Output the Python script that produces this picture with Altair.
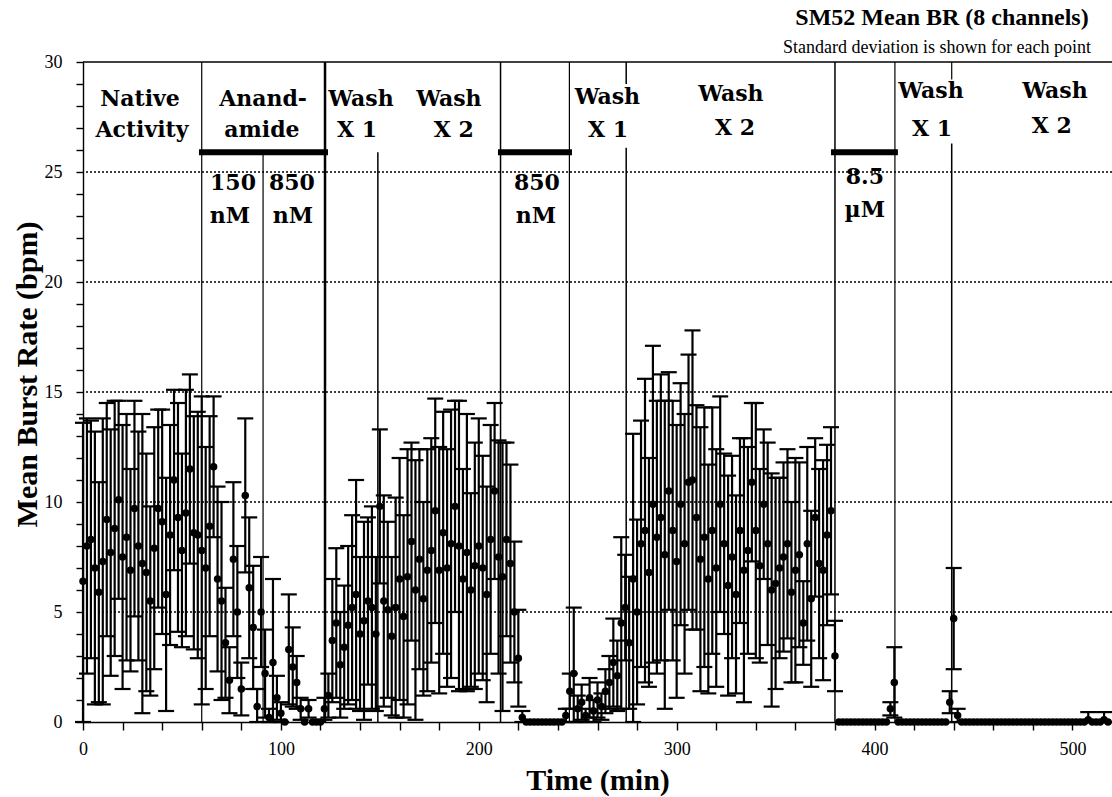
import altair as alt
import pandas as pd

# ---- data (time in min, mean burst rate and SD in bpm) ----
times = [
    0, 2, 4, 6, 8, 10, 12, 14, 16, 18,
    20, 22, 24, 26, 28, 30, 32, 34, 36, 38,
    40, 42, 44, 46, 48, 50, 52, 54, 56, 58,
    60, 62, 64, 66, 68, 70, 72, 74, 76, 78,
    80, 82, 84, 86, 88, 90, 92, 94, 96, 98,
    100, 102, 104, 106, 108, 110, 112, 114, 116, 118,
    120, 122, 124, 126, 128, 130, 132, 134, 136, 138,
    140, 142, 144, 146, 148, 150, 152, 154, 156, 158,
    160, 162, 164, 166, 168, 170, 172, 174, 176, 178,
    180, 182, 184, 186, 188, 190, 192, 194, 196, 198,
    200, 202, 204, 206, 208, 210, 212, 214, 216, 218,
    220, 222, 224, 226, 228, 230, 232, 234, 236, 238,
    240, 242, 244, 246, 248, 250, 252, 254, 256, 258,
    260, 262, 264, 266, 268, 270, 272, 274, 276, 278,
    280, 282, 284, 286, 288, 290, 292, 294, 296, 298,
    300, 302, 304, 306, 308, 310, 312, 314, 316, 318,
    320, 322, 324, 326, 328, 330, 332, 334, 336, 338,
    340, 342, 344, 346, 348, 350, 352, 354, 356, 358,
    360, 362, 364, 366, 368, 370, 372, 374, 376, 378,
    380, 382, 384, 386, 388, 390, 392, 394, 396, 398,
    400, 402, 404, 406, 408, 410, 412, 414, 416, 418,
    420, 422, 424, 426, 428, 430, 432, 434, 436, 438,
    440, 442, 444, 446, 448, 450, 452, 454, 456, 458,
    460, 462, 464, 466, 468, 470, 472, 474, 476, 478,
    480, 482, 484, 486, 488, 490, 492, 494, 496, 498,
    500, 502, 504, 506, 508, 510, 512, 514, 516, 518,
]

mean_br = [
    6.4, 8.0, 8.3, 7.0, 5.9, 7.3, 9.2, 7.7, 8.8, 10.1,
    7.5, 8.4, 6.9, 9.7, 8.0, 7.2, 6.8, 5.5, 7.9, 9.7,
    9.1, 5.8, 8.5, 11.0, 9.3, 7.8, 9.5, 11.5, 8.6, 8.5,
    7.8, 7.0, 8.9, 11.6, 6.5, 5.5, 3.6, 1.9, 7.4, 5.0,
    1.5, 10.3, 6.1, 4.3, 0.7, 5.0, 2.2, 0.2, 2.7, 1.1,
    0.4, 0.0, 3.3, 2.5, 1.8, 0.6, 0.0, 0.6, 0.0, 0.0,
    0.0, 0.6, 1.2, 3.7, 4.5, 2.6, 3.4, 4.4, 5.2, 5.8,
    4.0, 4.6, 5.5, 5.2, 4.0, 9.8, 5.5, 5.1, 3.9, 5.2,
    6.5, 4.8, 6.6, 8.2, 6.0, 7.4, 5.6, 6.9, 7.8, 9.6,
    6.9, 8.6, 7.0, 8.1, 9.8, 8.0, 6.5, 7.7, 6.0, 7.1,
    8.0, 7.0, 5.8, 8.3, 10.5, 7.5, 6.6, 8.3, 7.2, 5.0,
    2.9, 0.2, 0.0, 0.0, 0.0, 0.0, 0.0, 0.0, 0.0, 0.0,
    0.0, 0.0, 0.3, 1.4, 2.2, 0.6, 0.9, 0.3, 1.1, 0.5,
    1.0, 0.7, 1.4, 1.8, 2.7, 2.1, 4.5, 5.2, 3.6, 6.5,
    5.0, 8.1, 8.7, 6.8, 9.9, 8.4, 9.3, 7.6, 10.5, 8.7,
    7.3, 9.9, 8.1, 10.9, 11.0, 9.3, 7.4, 8.4, 6.5, 8.7,
    7.0, 9.9, 8.1, 6.2, 7.5, 5.8, 8.7, 6.9, 7.8, 10.9,
    8.7, 7.1, 9.9, 8.1, 6.0, 6.3, 7.0, 7.5, 8.1, 5.9,
    6.9, 7.6, 4.5, 8.1, 5.6, 9.3, 7.2, 6.9, 8.5, 9.6,
    3.0, 0.0, 0.0, 0.0, 0.0, 0.0, 0.0, 0.0, 0.0, 0.0,
    0.0, 0.0, 0.0, 0.0, 0.6, 1.8, 0.0, 0.0, 0.0, 0.0,
    0.0, 0.0, 0.0, 0.0, 0.0, 0.0, 0.0, 0.0, 0.0, 0.9,
    4.7, 0.3, 0.0, 0.0, 0.0, 0.0, 0.0, 0.0, 0.0, 0.0,
    0.0, 0.0, 0.0, 0.0, 0.0, 0.0, 0.0, 0.0, 0.0, 0.0,
    0.0, 0.0, 0.0, 0.0, 0.0, 0.0, 0.0, 0.0, 0.0, 0.0,
    0.0, 0.0, 0.0, 0.0, 0.1, 0.0, 0.0, 0.0, 0.1, 0.0,
]

sd_br = [
    7.2, 5.8, 5.4, 6.2, 5.0, 6.5, 5.3, 5.6, 5.8, 4.5,
    6.0, 5.6, 4.6, 4.9, 5.2, 6.8, 5.4, 4.3, 5.5, 4.5,
    5.1, 5.3, 5.0, 4.1, 5.2, 4.4, 5.6, 4.3, 5.3, 5.6,
    7.0, 5.5, 5.0, 3.2, 4.2, 4.5, 2.5, 1.5, 3.5, 3.0,
    1.2, 3.5, 3.2, 2.8, 0.8, 2.5, 2.0, 0.4, 3.8, 1.0,
    0.5, 0.0, 2.5, 1.8, 1.2, 0.5, 0.0, 0.4, 0.0, 0.0,
    0.0, 0.5, 1.0, 2.8, 3.4, 2.4, 2.8, 3.6, 4.2, 5.2,
    3.5, 4.5, 3.8, 4.6, 3.5, 3.5, 4.8, 4.0, 3.6, 5.0,
    5.5, 4.6, 5.8, 4.5, 5.9, 5.0, 4.4, 5.5, 5.1, 5.1,
    5.6, 5.5, 5.4, 6.1, 4.8, 6.6, 5.0, 6.3, 4.4, 5.6,
    5.8, 5.1, 4.9, 5.2, 4.0, 5.3, 6.1, 4.4, 4.5, 3.2,
    2.2, 0.3, 0.0, 0.0, 0.0, 0.0, 0.0, 0.0, 0.0, 0.0,
    0.0, 0.0, 0.3, 0.8, 3.0, 0.6, 0.8, 0.3, 0.9, 0.5,
    0.8, 0.6, 1.0, 1.2, 2.0, 1.6, 3.9, 2.4, 3.0, 6.6,
    4.2, 5.6, 6.9, 5.2, 7.2, 6.2, 6.5, 7.0, 5.4, 5.9,
    6.2, 5.5, 5.9, 5.8, 6.8, 5.1, 6.0, 5.9, 5.2, 5.6,
    5.4, 4.9, 4.1, 5.0, 4.6, 4.5, 4.2, 6.0, 4.7, 3.6,
    5.8, 4.4, 3.4, 4.6, 5.3, 4.8, 4.1, 4.3, 4.3, 4.1,
    5.1, 4.2, 1.9, 4.4, 4.0, 3.6, 4.3, 5.0, 4.1, 3.8,
    1.6, 0.0, 0.0, 0.0, 0.0, 0.0, 0.0, 0.0, 0.0, 0.0,
    0.0, 0.0, 0.0, 0.0, 0.3, 1.6, 0.0, 0.0, 0.0, 0.0,
    0.0, 0.0, 0.0, 0.0, 0.0, 0.0, 0.0, 0.0, 0.0, 0.5,
    2.3, 0.3, 0.0, 0.0, 0.0, 0.0, 0.0, 0.0, 0.0, 0.0,
    0.0, 0.0, 0.0, 0.0, 0.0, 0.0, 0.0, 0.0, 0.0, 0.0,
    0.0, 0.0, 0.0, 0.0, 0.0, 0.0, 0.0, 0.0, 0.0, 0.0,
    0.0, 0.0, 0.0, 0.0, 0.35, 0.0, 0.0, 0.0, 0.35, 0.0,
]

# ---- protocol annotations (data coordinates) ----
vline_t = [60, 91, 122.3, 149, 211, 245.8, 274.5, 274.5, 380, 410.3, 439, 439]
vline_lo = [0, 0, 0, 0, 0, 0, 29.0, 0, 0, 0, 29.2, 0]
vline_hi = [30, 25.9, 30, 25.9, 30, 30, 30, 26.1, 30, 30, 30, 26.3]
vline_w = [1.2, 1.2, 2.5, 1.5, 1.5, 1.2, 1.5, 1.5, 1.5, 1.2, 1.2, 1.5]

drug_start = [58.6, 209.7, 378.0]
drug_end = [123.8, 247.1, 411.8]
drug_level = [25.9, 25.9, 25.9]

label_text = ["Native", "Activity", "Anand-", "amide", "Wash", "X 1", "Wash", "X 2",
              "150", "nM", "850", "nM", "850", "nM", "Wash", "X 1", "Wash", "X 2",
              "8.5", "µM", "Wash", "X 1", "Wash", "X 2"]
label_t = [28.8, 29.8, 91.0, 90.4, 140.5, 138.5, 184.9, 187.4,
           75.8, 74.3, 105.6, 106.1, 229.4, 228.9, 265.0, 265.3, 327.4, 329.5,
           395.1, 395.1, 428.5, 429.0, 491.2, 489.6]
label_v = [28.3, 26.9, 28.3, 26.9, 28.3, 26.9, 28.3, 26.9,
           24.5, 23.0, 24.5, 23.0, 24.5, 23.0, 28.4, 26.9, 28.55, 27.0,
           24.77, 23.27, 28.68, 26.95, 28.68, 27.09]

grid_levels = [5, 10, 15, 20, 25]
top_level = [30]
x_ticks = [0, 20, 40, 60, 80, 100, 120, 140, 160, 180, 200, 220, 240, 260, 280,
           300, 320, 340, 360, 380, 400, 420, 440, 460, 480, 500]
y_ticks = [0, 1, 2, 3, 4, 5, 6, 7, 8, 9, 10, 11, 12, 13, 14, 15, 16, 17, 18, 19, 20,
           21, 22, 23, 24, 25, 26, 27, 28, 29, 30]

title_text = "SM52 Mean BR (8 channels)"
subtitle_text = "Standard deviation is shown for each point"

# ---- tables ----
df = pd.DataFrame({"t": times, "m": mean_br, "sd": sd_br})
df["lo"] = (df["m"] - df["sd"]).clip(lower=0)
df["hi"] = df["m"] + df["sd"]

vlines = pd.DataFrame({"t": vline_t, "lo": vline_lo, "hi": vline_hi, "w": vline_w})
bars = pd.DataFrame({"t1": drug_start, "t2": drug_end, "v": drug_level})
labels = pd.DataFrame({"t": label_t, "v": label_v, "txt": label_text})
grid = pd.DataFrame({"v": grid_levels})
topl = pd.DataFrame({"v": top_level})

xs = alt.Scale(domain=[0, 520], nice=False, zero=False)
ys = alt.Scale(domain=[0, 30], nice=False)

x_axis = alt.Axis(
    values=x_ticks,
    labelExpr="datum.value % 100 === 0 ? datum.label : ''",
    tickSize=8, tickColor="black", tickWidth=1.4,
    domainColor="black", domainWidth=1.4,
    labelFont="Liberation Serif", labelFontSize=18, labelColor="black",
    labelPadding=10, labelFlush=False, grid=False,
    titleFont="Liberation Serif", titleFontSize=30, titleFontWeight="bold",
    titleColor="black", titleBaseline="alphabetic", titleY=67,
)
y_axis = alt.Axis(
    values=y_ticks,
    labelExpr="datum.value % 5 === 0 ? datum.label : ''",
    tickSize=7, tickColor="black", tickWidth=1.4,
    domainColor="black", domainWidth=1.4,
    labelFont="Liberation Serif", labelFontSize=18, labelColor="black",
    labelPadding=14, grid=False,
    titleFont="Liberation Serif", titleFontSize=30, titleFontWeight="bold",
    titleColor="black", titleBaseline="alphabetic", titleX=-47, titleY=312,
)


def X(field):
    return alt.X(field, type="quantitative", scale=xs, axis=x_axis, title="Time (min)")


def Y(field):
    return alt.Y(field, type="quantitative", scale=ys, axis=y_axis, title="Mean Burst Rate (bpm)")


grid_layer = alt.Chart(grid).mark_rule(color="black", strokeWidth=1.3, strokeDash=[2, 2]).encode(
    y=Y("v"))
top_layer = alt.Chart(topl).mark_rule(color="black", strokeWidth=1.6).encode(y=Y("v"))

vline_layer = alt.Chart(vlines).mark_rule(color="black").encode(
    x=X("t"), y=Y("lo"), y2=alt.Y2("hi"),
    strokeWidth=alt.StrokeWidth("w:Q", scale=None))

bar_layer = alt.Chart(bars).mark_rule(color="black", strokeWidth=6).encode(
    x=X("t1"), x2=alt.X2("t2"), y=Y("v"))

base = alt.Chart(df)
err_layer = base.transform_filter("datum.sd > 0").mark_rule(
    color="black", strokeWidth=2.2).encode(x=X("t"), y=Y("lo"), y2=alt.Y2("hi"))
cap_hi = base.transform_filter("datum.sd > 0").mark_rule(
    color="black", strokeWidth=2.2, xOffset=-8, x2Offset=8).encode(
    x=X("t"), x2=alt.X2("t"), y=Y("hi"))
cap_lo = base.transform_filter("datum.sd > 0").mark_rule(
    color="black", strokeWidth=2.2, xOffset=-8, x2Offset=8).encode(
    x=X("t"), x2=alt.X2("t"), y=Y("lo"))
pts = base.mark_circle(color="black", size=56, opacity=1).encode(x=X("t"), y=Y("m"))

label_layer = alt.Chart(labels).mark_text(
    font="DejaVu Serif", fontWeight="bold", fontSize=22, color="black",
    align="center", baseline="middle").encode(x=X("t"), y=Y("v"), text="txt:N")

title_layer = alt.Chart(pd.DataFrame({"txt": [title_text]})).mark_text(
    font="Liberation Serif", fontWeight="bold", fontSize=24, color="black",
    align="center", baseline="alphabetic").encode(
    x=alt.value(859), y=alt.value(-37), text="txt:N")
subtitle_layer = alt.Chart(pd.DataFrame({"txt": [subtitle_text]})).mark_text(
    font="Liberation Serif", fontSize=18, color="black",
    align="center", baseline="alphabetic").encode(
    x=alt.value(854), y=alt.value(-9), text="txt:N")

chart = alt.layer(
    grid_layer, top_layer, vline_layer, bar_layer, err_layer, cap_hi, cap_lo, pts,
    label_layer, title_layer, subtitle_layer,
).properties(
    width=1029, height=660,
    autosize=alt.AutoSizeParams(type="none"),
    padding={"left": 83, "top": 62, "right": 0, "bottom": 75},
    background="white",
).configure_view(stroke=None)

chart.save("out.html", embed_options={"renderer": "svg", "actions": False})
